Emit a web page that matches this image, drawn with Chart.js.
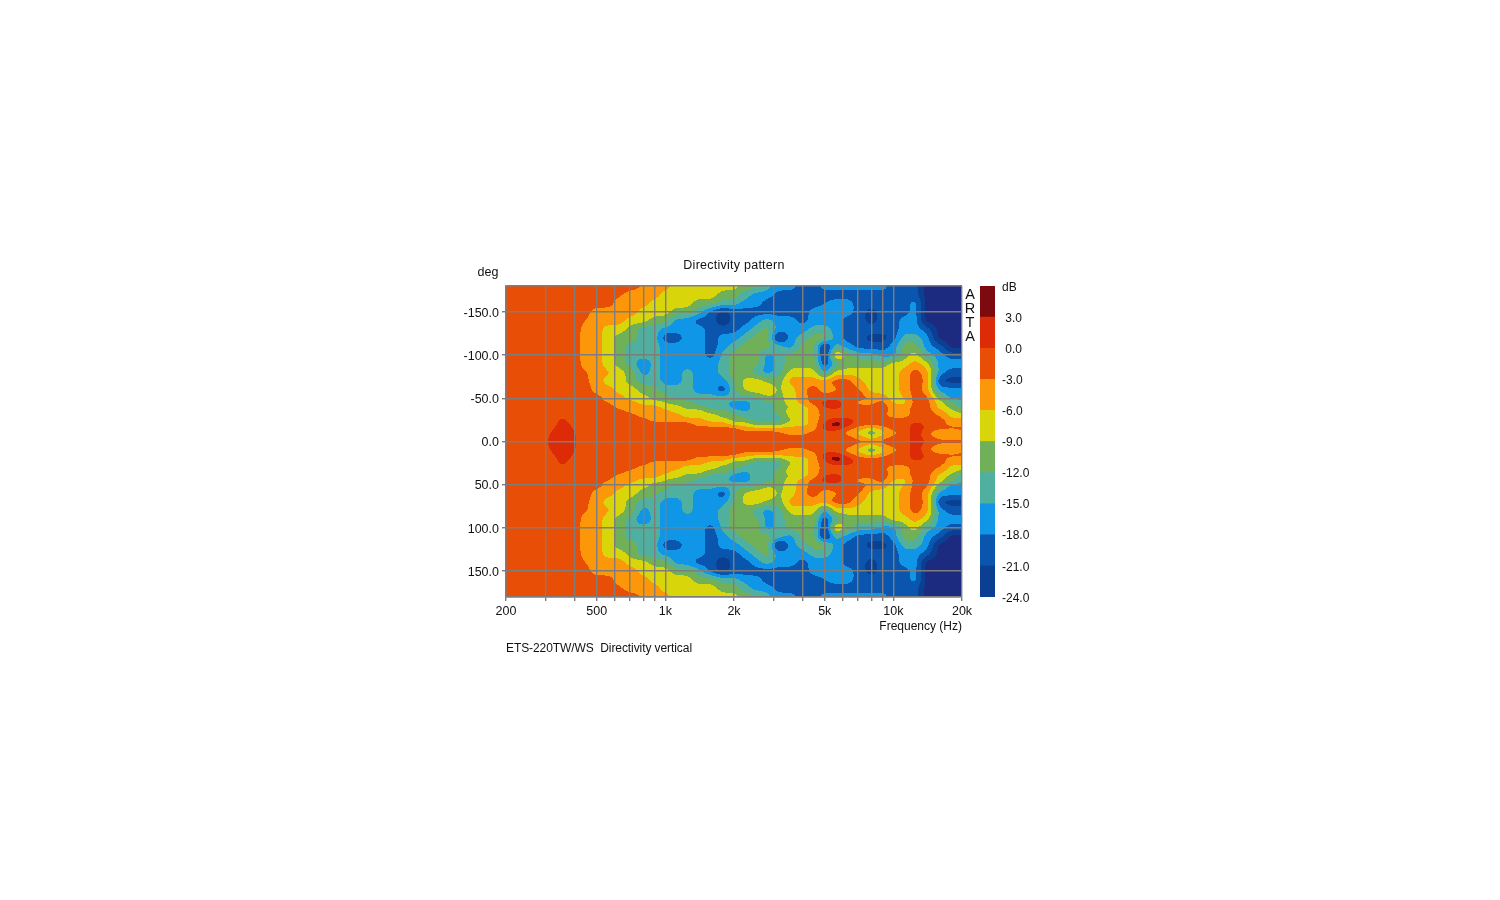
<!DOCTYPE html>
<html lang="en">
<head>
  <meta charset="UTF-8" />
  <title>Directivity pattern</title>
  <script src="https://cdn.jsdelivr.net/npm/chart.js"></script>
  <style>
    body { margin: 0; background: #fff; }
    canvas { filter: blur(0.45px); }
    #main { position: absolute; left: 0; top: 0; }
    #bar { position: absolute; left: 970px; top: 270px; }
  </style>
</head>
<body>
  <canvas id="main" width="1500" height="900"></canvas>
  <canvas id="bar" width="90" height="345"></canvas>
  <script>
    // frequency columns (Hz)
    const freqs = [200,250,300,355,400,450,500,560,630,710,800,900,1000,1120,1250,1400,1600,1800,2000,2240,2500,2800,3150,3550,4000,4500,5000,5600,6300,7100,8000,9000,10000,11200,12500,14000,16000,18000,20000];
    // angle rows (deg), the plot is mirrored around 0
    const angles = [0,5,10,15,20,25,30,35,40,45,50,60,70,80,90,100,110,120,130,140,150,160,170,180];

    // level in dB at each frequency column, one list per angle
    const db0 = [-1.5,-1.5,-0.05,1.5,0.3, -1.5,-1.5,-1.5,-1.5,-1.5, -1.5,-1.5,-1.5,-1.5,-1.5, -1.5,-1.5,-1.5,-1.5,-1.5, -1.5,-1.5,-1.5,-1.5,-1.5, -1.5,-1.5,-1.5,-1.5,-1.5, -4.5,-1.5,-1.5,-1.5,1.5, 0.3,-1.5,-1.5,-1.5];
    const db5 = [-1.5,-1.5,-0.3,1.5,0.2, -1.5,-1.5,-1.5,-1.5,-1.5, -1.5,-1.5,-1.5,-1.5,-1.5, -1.5,-1.5,-1.5,-1.5,-1.5, -1.5,-1.5,-1.5,-1.5,-1.5, -1.5,-1.5,-1.5,-1.5,-4.5, -7.5,-4.5,-1.5,-1.5,1.5, -1.5,-4.5,-4.5,-4.5];
    const db10 = [-1.5,-1.5,-0.5,1.5,0.1, -1.5,-1.5,-1.5,-1.5,-1.5, -1.5,-1.5,-1.5,-1.5,-1.5, -1.5,-1.5,-1.5,-1.5,-1.5, -1.5,-1.5,-2.5,-4.5,-4.5, -1.5,-1.5,-1.5,-4.5,-7.5, -12,-7.5,-4.5,-1.5,1.5, -1.5,-7.5,-7.5,-4.5];
    const db15 = [-1.5,-1.5,-1,1.2,-0.2, -1.5,-1.5,-1.5,-1.5,-1.5, -1.5,-1.5,-1.5,-1.5,-1.5, -1.5,-1.5,-1.5,-1.5,-4.5, -4.5,-4.5,-4.5,-4.5,-4.5, -4.5,1.5,1.5,-1.5,-4.5, -7.5,-4.5,-1.5,-1.5,1.5, -0.5,-1.5,-1.5,-1.5];
    const db20 = [-1.5,-1.5,-1.5,0.8,-0.6, -1.5,-1.5,-1.5,-1.5,-1.5, -1.5,-1.5,-1.5,-1.5,-1.5, -4.5,-4.5,-4.5,-7.5,-7.5, -10.5,-10.5,-10.5,-7.5,-7.5, -4.5,1.5,6,1.5,-1.5, -1.5,-1.5,-1.5,-1.5,1.5, -0.5,-1.5,-4.5,-4.5];
    const db25 = [-1.5,-1.5,-1.5,0.4,-1, -1.5,-1.5,-1.5,-1.5,-1.5, -1.5,-4.5,-4.5,-4.5,-4.5, -4.5,-7.5,-7.5,-10.5,-10.5, -13.5,-13.5,-13.5,-9,-7.5, -4.5,-1.5,1.5,1.5,-1.5, -1.5,-1.5,-1.5,-1.5,-1.5, -1.5,-1.5,-4.5,-4.5];
    const db30 = [-1.5,-1.5,-1.5,-0.05,-1.5, -1.5,-1.5,-1.5,-1.5,-1.5, -4.5,-4.5,-4.5,-4.5,-7.5, -7.5,-7.5,-10.5,-10.5,-13.5, -13.5,-13.5,-12.5,-7.5,-7.5, -4.5,-1.5,-1.5,-1.5,-1.5, -1.5,-2.5,-4.5,-4.5,-1.5, -1.5,-3.2,-7.5,-7.5];
    const db35 = [-1.5,-1.5,-1.5,-1.5,-1.5, -1.5,-1.5,-1.5,-1.5,-4.5, -4.5,-4.5,-4.5,-7.5,-7.5, -7.5,-10.5,-10.5,-13.5,-15.5, -13.5,-13.5,-10.5,-7.5,-7.5, -4.5,-1.5,-1.5,-1.5,-1.5, -1.5,-1.5,-4.5,-4.5,-1.5, -1.5,-4.5,-7.5,-10.5];
    const db40 = [-1.5,-1.5,-1.5,-1.5,-1.5, -1.5,-1.5,-1.5,-4.5,-4.5, -4.5,-4.5,-7.5,-7.5,-10.5, -10.5,-13.5,-13.5,-16.5,-16.5, -13.5,-13.5,-10.5,-9,-7.5, -4.5,0.5,1.5,-1.5,-1.5, -1.5,-1.5,-4.5,-4.5,-1.5, -1.5,-7.5,-10.5,-13.5];
    const db45 = [-1.5,-1.5,-1.5,-1.5,-1.5, -1.5,-1.5,-3,-4.5,-4.5, -7.5,-7.5,-9,-10.5,-10.5, -13.5,-13.5,-13.5,-16.5,-16.5, -13.5,-13.5,-10.5,-7.5,-4.5, -1.5,1.5,1.5,-1.5,-4.5, -4.5,-1.5,-6.5,-7.5,-1.5, -1.5,-7.5,-10.5,-13.5];
    const db50 = [-1.5,-1.5,-1.5,-1.5,-1.5, -1.5,-1.5,-4.5,-4.5,-7.5, -7.5,-10.5,-10.5,-13.5,-13.5, -13.5,-13.5,-13.5,-13.5,-13.5, -13.5,-9.5,-10,-7.5,-4.5, -1.5,-1.5,-0.5,-1.5,-1.5, -3,-4.5,-7.5,-6,-1.5, -1.5,-10.5,-16.5,-16.5];
    const db60 = [-1.5,-1.5,-1.5,-1.5,-1.5, -1.5,-4.5,-4.5,-7.5,-7.5, -10.5,-10.5,-13.5,-13.5,-13.5, -16.5,-16.5,-20.5,-12,-8.5, -6.5,-6.5,-9.5,-7.5,-3.5, -1.5,-4.5,-3.5,-1.5,-2.5, -7.5,-7.5,-7.5,-4.5,-1.5, -4.5,-16.5,-16.5,-16.5];
    const db70 = [-1.5,-1.5,-1.5,-1.5,-1.5, -2.5,-4.5,-7.5,-7.5,-10.5, -13.5,-13.5,-16.5,-16.5,-13.5, -16.5,-16.5,-16.5,-11.5,-8, -7,-9.5,-10.5,-4.5,-4.5, -4.5,-4.5,-1.5,-1.5,-5.5, -7.5,-7.5,-7.5,-4.5,-1.5, -3.5,-21.5,-22.5,-22.5];
    const db80 = [-1.5,-1.5,-1.5,-1.5,-1.5, -2.8,-4.5,-5.5,-7.5,-10.5, -16.5,-13.5,-16.5,-16.5,-13.5, -16.5,-16.5,-13.5,-10.5,-10.5, -13.5,-16.5,-13.5,-7.5,-7.5, -7.5,-16.5,-7.5,-7.5,-7.5, -7.5,-7.5,-7.5,-4.5,-1.5, -4.5,-16.5,-19.5,-19.5];
    const db90 = [-1.5,-1.5,-1.5,-1.5,-1.5, -4.5,-4.5,-7.5,-10.5,-13.5, -18,-13.5,-16.5,-16.5,-16.5, -16.5,-16.5,-13.5,-10.5,-10.5, -10.5,-16.5,-13.5,-10.5,-10.5, -10.5,-21,-13.5,-10.5,-10.5, -10.5,-10.5,-7.5,-7.5,-4.5, -7.5,-16.5,-16.5,-16.5];
    const db100 = [-1.5,-1.5,-1.5,-1.5,-1.5, -4.5,-4.5,-7.5,-10.5,-13.5, -13.5,-13.5,-16.5,-16.5,-16.5, -16.5,-19.5,-13.5,-10.5,-10.5, -10.5,-16.5,-13.5,-10.5,-10.5, -10.5,-24,-3.5,-10.5,-13.5, -13.5,-16.5,-16.5,-10.5,-7.5, -13.5,-16.5,-19.5,-19.5];
    const db110 = [-1.5,-1.5,-1.5,-1.5,-1.5, -4.5,-4.5,-7.5,-10.5,-13.5, -13.5,-13.5,-16.5,-16.5,-16.5, -16.5,-19.5,-16.5,-13.5,-10.5, -10.5,-10.5,-13.5,-16.5,-10.5, -10.5,-24,-13.5,-16.5,-19.5, -19.5,-19.5,-16.5,-10.5,-10.5, -16.5,-19.5,-25.5,-25.5];
    const db120 = [-1.5,-1.5,-1.5,-1.5,-1.5, -4.5,-4.5,-7.5,-10.5,-10.5, -13.5,-13.5,-20,-20,-16.5, -16.5,-19.5,-16.5,-16.5,-13.5, -10.5,-10.5,-24,-16.5,-13.5, -10.5,-10.5,-16.5,-19.5,-19.5, -22.5,-22.5,-19.5,-13.5,-13.5, -16.5,-25.5,-25.5,-25.5];
    const db130 = [-1.5,-1.5,-1.5,-1.5,-1.5, -4.5,-4.5,-7.5,-7.5,-10.5, -13.5,-13.5,-16.5,-16.5,-16.5, -16.5,-19.5,-19.5,-19.5,-16.5, -13.5,-10.5,-16.5,-16.5,-16.5, -13.5,-13.5,-16.5,-19.5,-19.5, -19.5,-19.5,-19.5,-16.5,-16.5, -19.5,-25.5,-25.5,-25.5];
    const db140 = [-1.5,-1.5,-1.5,-1.5,-1.5, -3.1,-4.5,-4.5,-4.5,-7.5, -7.5,-10.5,-10.5,-16.5,-16.5, -19.5,-19.5,-24,-19.5,-19.5, -16.5,-13.5,-16.5,-16.5,-19.5, -16.5,-16.5,-16.5,-19.5,-19.5, -22.5,-19.5,-19.5,-16.5,-16.5, -25.5,-25.5,-25.5,-25.5];
    const db150 = [-1.5,-1.5,-1.5,-1.5,-1.5, -2,-4.5,-4.5,-4.5,-4.5, -7.5,-7.5,-7.5,-10.5,-10.5, -13.5,-19.5,-22.5,-19.5,-19.5, -19.5,-19.5,-19.5,-19.5,-19.5, -16.5,-16.5,-16.5,-16.5,-19.5, -22.5,-19.5,-19.5,-19.5,-16.5, -25.5,-25.5,-25.5,-25.5];
    const db160 = [-1.5,-1.5,-1.5,-1.5,-1.5, -1.5,-1.5,-1.5,-4.5,-4.5, -4.5,-7.5,-7.5,-7.5,-7.5, -10.5,-10.5,-13.5,-13.5,-16.5, -16.5,-19.5,-19.5,-19.5,-19.5, -19.5,-18,-16.5,-16.5,-19.5, -19.5,-19.5,-19.5,-19.5,-16.5, -25.5,-25.5,-25.5,-25.5];
    const db170 = [-1.5,-1.5,-1.5,-1.5,-1.5, -1.5,-1.5,-1.5,-2.5,-4.5, -4.5,-4.5,-7.5,-7.5,-7.5, -7.5,-7.5,-10.5,-10.5,-13.5, -16.5,-16.5,-19.5,-19.5,-19.5, -19.5,-19.5,-19.5,-19.5,-19.5, -19.5,-19.5,-19.5,-19.5,-19.5, -25.5,-25.5,-25.5,-25.5];
    const db180 = [-1.5,-1.5,-1.5,-1.5,-1.5, -1.5,-1.5,-1.5,-1.5,-1.5, -3.2,-4.5,-4.5,-7.5,-7.5, -7.5,-7.5,-7.5,-7.5,-10.5, -10.5,-13.5,-16.5,-16.5,-19.5, -19.5,-16.5,-16.5,-16.5,-16.5, -16.5,-16.5,-19.5,-19.5,-19.5, -25.5,-25.5,-25.5,-25.5];
    const dbRows = [db0,db5,db10,db15,db20,db25,db30,db35,db40,db45,db50,db60,db70,db80,db90,db100,db110,db120,db130,db140,db150,db160,db170,db180];

    // colour scale
    const bandLow = [-24,-21,-18,-15,-12,-9,-6,-3,0,3];
    const bandColors = ['#0a3f92','#0a56ae','#0f96e6','#4fb0a0','#6fb058','#d8d60a','#fb9708','#e84e06','#dc2b06','#7d0a0e'];
    const belowScaleColor = '#1c2a80';

    const xTicks = [200,300,400,500,600,700,800,900,1000,2000,3000,4000,5000,6000,7000,8000,9000,10000,20000];
    const xLabels = { 200: '200', 500: '500', 1000: '1k', 2000: '2k', 5000: '5k', 10000: '10k', 20000: '20k' };
    const yTicks = [-180,-150,-100,-50,0,50,100,150,180];

    const FONT = '"Liberation Sans", Arial, sans-serif';
    const INK = '#111';
    const GRID = '#7d7d7d';

    function hexToRgb(h) {
      return [parseInt(h.slice(1, 3), 16), parseInt(h.slice(3, 5), 16), parseInt(h.slice(5, 7), 16)];
    }
    const bandRgb = bandColors.map(hexToRgb);
    const belowRgb = hexToRgb(belowScaleColor);
    const logFreqs = freqs.map(Math.log10);

    function findCell(list, v) {
      let i = 0;
      while (i < list.length - 2 && list[i + 1] <= v) i++;
      return [i, Math.min(1, Math.max(0, (v - list[i]) / (list[i + 1] - list[i])))];
    }

    function levelAt(freq, angle) {
      const [c, fx] = findCell(logFreqs, Math.log10(freq));
      const [r, fy] = findCell(angles, Math.abs(angle));
      const a = dbRows[r][c] * (1 - fx) + dbRows[r][c + 1] * fx;
      const b = dbRows[r + 1][c] * (1 - fx) + dbRows[r + 1][c + 1] * fx;
      return a * (1 - fy) + b * fy;
    }

    // box blur along one direction, rounds off the contour edges
    function blurLine(src, w, h, radius, horizontal) {
      const out = new Float32Array(src.length);
      const n = horizontal ? w : h, m = horizontal ? h : w;
      for (let j = 0; j < m; j++) {
        for (let i = 0; i < n; i++) {
          let sum = 0;
          for (let d = -radius; d <= radius; d++) {
            const t = Math.min(n - 1, Math.max(0, i + d));
            sum += horizontal ? src[j * w + t] : src[t * w + j];
          }
          out[horizontal ? j * w + i : i * w + j] = sum / (2 * radius + 1);
        }
      }
      return out;
    }

    // y labels sit a bit low in the original
    function nudgeLabels(scale) {
      if (scale.nudged) return;
      scale.nudged = true;
      const draw = scale.drawLabels;
      scale.drawLabels = function (area) {
        this.ctx.save();
        this.ctx.translate(0, 1.3);
        draw.call(this, area);
        this.ctx.restore();
      };
    }

    // filled contour, every pixel is looked up through the chart scales
    const contourPlugin = {
      id: 'contour',
      beforeDraw(chart) {
        const { ctx, chartArea: area, scales } = chart;
        const w = Math.round(area.right - area.left), h = Math.round(area.bottom - area.top);
        let field = new Float32Array(w * h);
        for (let py = 0; py < h; py++) {
          const angle = scales.y.getValueForPixel(area.top + py + 0.5);
          for (let px = 0; px < w; px++) {
            field[py * w + px] = levelAt(scales.x.getValueForPixel(area.left + px + 0.5), angle);
          }
        }
        for (let pass = 0; pass < 2; pass++) {
          field = blurLine(field, w, h, 3, true);
          field = blurLine(field, w, h, 2, false);
        }
        const img = ctx.createImageData(w, h);
        for (let k = 0; k < w * h; k++) {
          const db = field[k];
          const rgb = db < -24 ? belowRgb : bandRgb[Math.max(0, Math.min(9, Math.floor((db + 24) / 3)))];
          img.data[k * 4] = rgb[0]; img.data[k * 4 + 1] = rgb[1]; img.data[k * 4 + 2] = rgb[2]; img.data[k * 4 + 3] = 255;
        }
        ctx.putImageData(img, Math.round(area.left), Math.round(area.top));
      }
    };

    const textPlugin = {
      id: 'labels',
      afterDraw(chart) {
        const { ctx, chartArea: area } = chart;
        ctx.save();
        ctx.fillStyle = INK;
        ctx.textBaseline = 'middle';
        ctx.font = '12.5px ' + FONT;
        ctx.textAlign = 'center';
        ctx.letterSpacing = '0.25px';
        ctx.fillText('Directivity pattern', 734, 266);
        ctx.letterSpacing = '0px';
        ctx.fillText('deg', 488, 272.5);
        ctx.textAlign = 'right';
        ctx.font = '12px ' + FONT;
        ctx.fillText('Frequency (Hz)', area.right, 626.5);
        ctx.textAlign = 'left';
        ctx.letterSpacing = '-0.08px';
        ctx.fillText('ETS-220TW/WS  Directivity vertical', area.left, 649);
        ctx.letterSpacing = '0px';
        ctx.font = '14.5px ' + FONT;
        ctx.textAlign = 'center';
        ['A', 'R', 'T', 'A'].forEach((ch, i) => ctx.fillText(ch, 970, 295 + i * 14));
        ctx.restore();
      }
    };

    new Chart(document.getElementById('main'), {
      type: 'scatter',
      data: { datasets: [{ data: [], pointRadius: 0 }] },
      plugins: [contourPlugin, textPlugin],
      options: {
        responsive: false,
        animation: false,
        layout: { padding: { left: 446, right: 538, top: 286, bottom: 273 } },
        plugins: { legend: { display: false }, tooltip: { enabled: false } },
        scales: {
          x: {
            type: 'logarithmic', min: 200, max: 20000,
            afterBuildTicks(s) { s.ticks = xTicks.map(v => ({ value: v })); },
            afterFit(s) { s.height = 30; },
            grid: { color: GRID, lineWidth: 1.4, tickLength: 4 },
            border: { color: GRID, width: 1.4 },
            ticks: {
              autoSkip: false, maxRotation: 0, padding: 3, color: INK, font: { family: FONT, size: 12.5 },
              callback: v => xLabels[v] || ''
            }
          },
          y: {
            reverse: true,
            min: -180, max: 180,
            afterBuildTicks(s) { s.ticks = yTicks.map(v => ({ value: v })); },
            afterFit(s) { s.width = 60; nudgeLabels(s); },
            grid: {
              color: GRID, lineWidth: 1.4, tickLength: 4,
              tickColor: c => Math.abs(c.tick.value) === 180 ? 'rgba(0,0,0,0)' : GRID
            },
            border: { color: GRID, width: 1.4 },
            ticks: {
              autoSkip: false, padding: 3, color: INK, font: { family: FONT, size: 12.5 },
              callback: v => Math.abs(v) === 180 ? '' : v.toFixed(1)
            }
          }
        }
      }
    });

    // colour bar, one floating bar per band
    new Chart(document.getElementById('bar'), {
      type: 'bar',
      data: {
        labels: ['dB'],
        datasets: bandLow.map((low, i) => ({
          data: [[low, low + 3]], backgroundColor: bandColors[i], barPercentage: 1, categoryPercentage: 1, grouped: false
        }))
      },
      options: {
        responsive: false,
        animation: false,
        layout: { padding: { left: 10, right: 0, top: 16, bottom: 18 } },
        plugins: { legend: { display: false }, tooltip: { enabled: false } },
        scales: {
          x: { display: false },
          y: {
            position: 'right', min: -24, max: 6,
            afterFit(s) { s.width = 65; nudgeLabels(s); },
            grid: { display: false, drawTicks: false },
            border: { display: false },
            ticks: {
              stepSize: 3, padding: 7, align: 'center', crossAlign: 'near', color: INK, font: { family: FONT, size: 12 },
              callback: v => v === 6 ? 'dB' : (v > -0.5 ? ' ' : '') + v.toFixed(1)
            }
          }
        }
      }
    });
  </script>
</body>
</html>
